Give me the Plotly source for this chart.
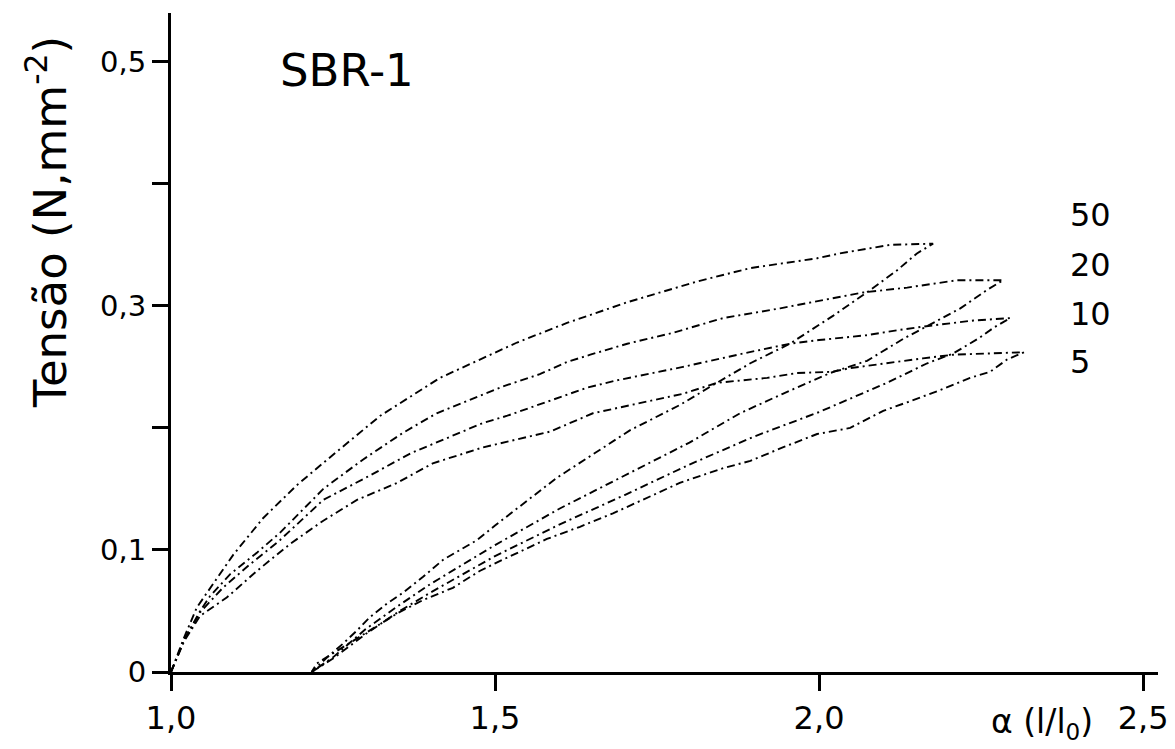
import plotly.graph_objects as go

# Hysteresis loops, SBR-1 (number of cycles: 50, 20, 10, 5)
cycles = ["50", "20", "10", "5"]

# Loading branches (alpha, stress)
load50_x = [1.0, 1.02, 1.04, 1.076, 1.096, 1.142, 1.194, 1.241, 1.287, 1.323, 1.415, 1.481, 1.534, 1.611, 1.704, 1.812, 1.894, 1.997, 2.032, 2.110, 2.176]
load50_y = [0.0, 0.028, 0.053, 0.081, 0.096, 0.126, 0.153, 0.174, 0.194, 0.210, 0.241, 0.257, 0.270, 0.286, 0.303, 0.320, 0.331, 0.339, 0.343, 0.350, 0.351]

load20_x = [1.0, 1.02, 1.045, 1.060, 1.091, 1.133, 1.168, 1.235, 1.296, 1.358, 1.410, 1.512, 1.569, 1.611, 1.647, 1.704, 1.775, 1.852, 1.940, 2.006, 2.068, 2.136, 2.213, 2.284]
load20_y = [0.0, 0.026, 0.050, 0.062, 0.080, 0.098, 0.114, 0.150, 0.174, 0.196, 0.212, 0.234, 0.244, 0.254, 0.260, 0.269, 0.278, 0.290, 0.298, 0.305, 0.311, 0.315, 0.321, 0.321]

load10_x = [1.0, 1.02, 1.045, 1.080, 1.117, 1.168, 1.235, 1.307, 1.369, 1.426, 1.481, 1.519, 1.551, 1.642, 1.688, 1.790, 1.883, 1.955, 2.000, 2.074, 2.120, 2.160, 2.238, 2.295]
load10_y = [0.0, 0.026, 0.049, 0.069, 0.086, 0.108, 0.141, 0.161, 0.179, 0.192, 0.204, 0.210, 0.216, 0.233, 0.239, 0.250, 0.261, 0.269, 0.272, 0.276, 0.280, 0.283, 0.288, 0.290]

load5_x = [1.0, 1.02, 1.045, 1.086, 1.133, 1.184, 1.235, 1.287, 1.349, 1.404, 1.481, 1.585, 1.651, 1.713, 1.790, 1.843, 1.920, 1.966, 2.020, 2.048, 2.100, 2.160, 2.207, 2.280, 2.316]
load5_y = [0.0, 0.025, 0.046, 0.061, 0.083, 0.105, 0.124, 0.141, 0.155, 0.171, 0.184, 0.197, 0.212, 0.219, 0.228, 0.237, 0.241, 0.245, 0.246, 0.249, 0.253, 0.257, 0.260, 0.261, 0.262]

# Unloading branches (from residual strain up to the tip)
unl50_x = [1.217, 1.241, 1.265, 1.287, 1.307, 1.333, 1.358, 1.389, 1.420, 1.446, 1.472, 1.500, 1.595, 1.662, 1.708, 1.786, 1.836, 1.894, 1.955, 2.022, 2.079, 2.120, 2.151, 2.176]
unl50_y = [0.0, 0.012, 0.023, 0.034, 0.045, 0.056, 0.065, 0.078, 0.092, 0.100, 0.108, 0.120, 0.159, 0.182, 0.198, 0.219, 0.235, 0.253, 0.269, 0.292, 0.313, 0.329, 0.343, 0.351]

unl20_x = [1.217, 1.250, 1.300, 1.350, 1.400, 1.450, 1.500, 1.600, 1.700, 1.800, 1.878, 1.944, 2.017, 2.074, 2.130, 2.176, 2.218, 2.259, 2.284]
unl20_y = [0.0, 0.012, 0.035, 0.054, 0.072, 0.088, 0.104, 0.134, 0.161, 0.188, 0.212, 0.228, 0.245, 0.255, 0.273, 0.286, 0.298, 0.313, 0.321]

unl10_x = [1.217, 1.250, 1.300, 1.350, 1.400, 1.450, 1.500, 1.600, 1.700, 1.800, 1.900, 2.000, 2.105, 2.167, 2.207, 2.248, 2.269, 2.295]
unl10_y = [0.0, 0.011, 0.031, 0.049, 0.065, 0.080, 0.095, 0.121, 0.145, 0.170, 0.193, 0.213, 0.237, 0.253, 0.261, 0.274, 0.282, 0.290]

unl5_x = [1.217, 1.225, 1.265, 1.307, 1.349, 1.389, 1.435, 1.477, 1.508, 1.580, 1.631, 1.682, 1.744, 1.785, 1.852, 1.894, 1.944, 1.997, 2.048, 2.099, 2.136, 2.187, 2.233, 2.264, 2.290, 2.316]
unl5_y = [0.0, 0.007, 0.020, 0.034, 0.048, 0.059, 0.069, 0.083, 0.091, 0.109, 0.119, 0.130, 0.145, 0.155, 0.167, 0.173, 0.184, 0.195, 0.200, 0.214, 0.221, 0.231, 0.241, 0.246, 0.256, 0.262]

loads = [(load50_x, load50_y), (load20_x, load20_y), (load10_x, load10_y), (load5_x, load5_y)]
unloads = [(unl50_x, unl50_y), (unl20_x, unl20_y), (unl10_x, unl10_y), (unl5_x, unl5_y)]

x_ticks = [1.0, 1.5, 2.0, 2.5]
x_tick_text = ["1,0", "1,5", "2,0", "2,5"]
y_ticks = [0, 0.1, 0.2, 0.3, 0.4, 0.5]
y_tick_text = ["0", "0,1", "", "0,3", "", "0,5"]

FONT = "DejaVu Sans"

fig = go.Figure()
for name, (lx, ly), (ux, uy) in zip(cycles, loads, unloads):
    xs = list(lx) + list(reversed(ux))
    ys = list(ly) + list(reversed(uy))
    fig.add_trace(go.Scatter(
        x=xs, y=ys, mode="lines", name=name,
        line=dict(color="black", width=1.9, dash="8px,4px,2px,4px"),
        showlegend=False,
    ))

# the page body has an 8px margin, so the figure is 8px smaller than the window
fig.update_layout(
    width=1167, height=741,
    margin=dict(l=163, r=17, t=5, b=77),
    paper_bgcolor="white", plot_bgcolor="white",
    font=dict(family=FONT, color="black"),
    xaxis=dict(
        range=[1.0, 2.523], showgrid=False, zeroline=False,
        showline=True, linecolor="black", linewidth=3,
        ticks="outside", ticklen=16, tickwidth=3, tickcolor="black",
        tickvals=x_ticks, ticktext=x_tick_text,
        tickfont=dict(size=32, family=FONT),
    ),
    yaxis=dict(
        range=[0, 0.54], showgrid=False, zeroline=False,
        showline=True, linecolor="black", linewidth=3,
        ticks="outside", ticklen=16, tickwidth=3, tickcolor="black",
        tickvals=y_ticks, ticktext=y_tick_text,
        tickfont=dict(size=29, family=FONT),
    ),
)

annotations = [
    dict(text="SBR-1", x=0.1084, y=0.9135, xanchor="left", yanchor="middle", font=dict(size=45)),
    dict(text="50", x=0.9088, y=0.6935, xanchor="left", yanchor="middle", font=dict(size=32)),
    dict(text="20", x=0.9088, y=0.6176, xanchor="left", yanchor="middle", font=dict(size=32)),
    dict(text="10", x=0.9088, y=0.5433, xanchor="left", yanchor="middle", font=dict(size=32)),
    dict(text="5", x=0.9088, y=0.4704, xanchor="left", yanchor="middle", font=dict(size=32)),
    dict(text="α (l/l<sub>0</sub>)", x=0.8825, y=-0.078, xanchor="center", yanchor="middle", font=dict(size=33)),
    dict(text="Tensão (N,mm<sup>-2</sup>)", x=-0.1246, y=0.683, xanchor="center", yanchor="middle",
         textangle=-90, font=dict(size=45)),
]
for a in annotations:
    fig.add_annotation(xref="paper", yref="paper", showarrow=False, **a)

fig.write_html("out.html")
